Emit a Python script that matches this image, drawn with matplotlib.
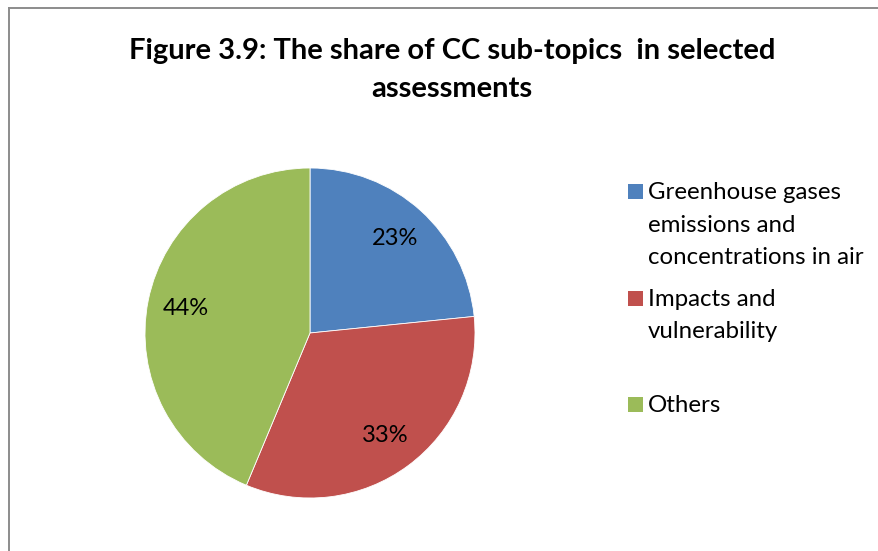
import matplotlib as mpl
mpl.use('Agg')
import matplotlib.pyplot as plt
from matplotlib.patches import Rectangle
from matplotlib.lines import Line2D

plt.rcParams['font.family'] = ['Lato', 'DejaVu Sans']

# data
labels = ['Greenhouse gases\nemissions and\nconcentrations in air',
          'Impacts and\nvulnerability',
          'Others']
shares = [23.4, 32.9, 43.7]
colors = ['#4F81BD', '#C0504D', '#9BBB59']
title_lines = ['Figure 3.9: The share of CC sub-topics  in selected', 'assessments']

W, H = 879, 551
fig = plt.figure(figsize=(W / 100, H / 100), dpi=100)

def fx(px):
    return px / W

def fy(py):
    return 1 - py / H

# frame (only left and top edges visible in the crop)
fig.add_artist(Line2D([fx(9), fx(9)], [fy(8), fy(H + 5)], color='#8c8c8c', lw=1.4))
fig.add_artist(Line2D([fx(9), fx(W + 5)], [fy(8), fy(8)], color='#8c8c8c', lw=1.4))

# pie, centre (310, 333) px, radius 165 px
cx, cy, r = 310, 333, 165
ax = fig.add_axes([fx(cx - r), fy(cy + r), 2 * r / W, 2 * r / H])
ax.pie(shares, colors=colors, startangle=90, counterclock=False,
       autopct='%1.0f%%', pctdistance=0.77,
       wedgeprops=dict(edgecolor='white', linewidth=0.6),
       textprops=dict(fontsize=17, color='black', family=['Lato', 'DejaVu Sans']))
ax.set_xlim(-1, 1); ax.set_ylim(-1, 1)
ax.set_aspect('auto')
ax.axis('off')

# title
fig.text(fx(452), fy(59), title_lines[0], ha='center', va='baseline',
         fontsize=21, fontweight='bold')
fig.text(fx(452), fy(97), title_lines[1], ha='center', va='baseline',
         fontsize=21, fontweight='bold')

# legend drawn by hand to match the uneven spacing
first_baselines = [199, 306, 412]
line_step = 32.5
for lab, col, base in zip(labels, colors, first_baselines):
    fig.add_artist(Rectangle((fx(628), fy(base)), 15 / W, 15 / H,
                             facecolor=col, edgecolor='none',
                             transform=fig.transFigure))
    for i, line in enumerate(lab.split('\n')):
        fig.text(fx(648), fy(base + i * line_step), line, ha='left',
                 va='baseline', fontsize=17.3)

fig.savefig('out.png', dpi=100)
